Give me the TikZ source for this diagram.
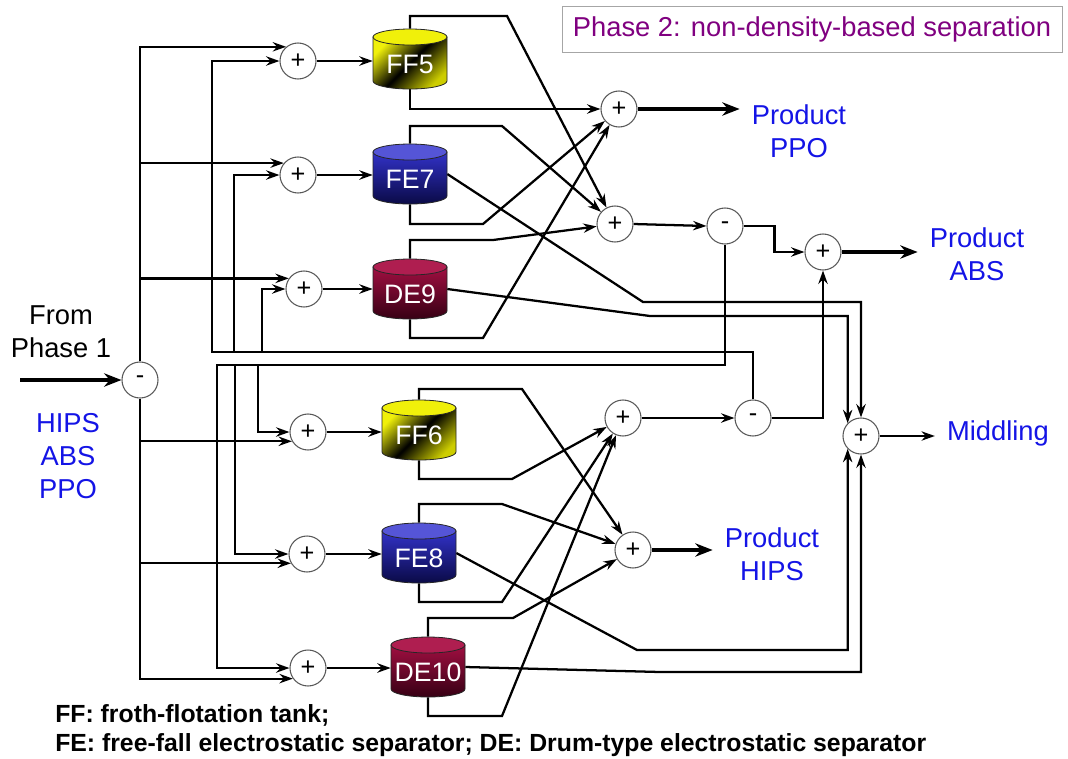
\documentclass[tikz,border=0pt]{standalone}
\usepackage{fontspec}
\setmainfont{Liberation Sans}
\usetikzlibrary{arrows.meta,backgrounds}
\definecolor{ffyel}{RGB}{240,240,10}
\definecolor{ffdark}{RGB}{205,205,0}
\definecolor{fetop}{RGB}{85,85,215}
\definecolor{febodya}{RGB}{50,50,200}
\definecolor{febodyb}{RGB}{10,10,70}
\definecolor{detop}{RGB}{175,30,80}
\definecolor{debodya}{RGB}{160,15,65}
\definecolor{debodyb}{RGB}{55,0,20}
\definecolor{lblblue}{RGB}{20,20,230}
\definecolor{phasepurple}{RGB}{128,0,128}
\newcommand\tankshape[3]{%
  \shade[#3body, draw=black!85, line width=0.6pt] (#1-37,#2-22) -- (#1-37,#2+22) arc[start angle=180,end angle=0,x radius=37,y radius=8] -- (#1+37,#2-22) -- cycle;
  \filldraw[#3top, draw=black!85, line width=0.6pt] (#1,#2-22) ellipse[x radius=37,y radius=8];
}
\tikzset{
  conn/.style={line width=1.7pt, -{Stealth[length=10pt,width=7pt]}},
  thickarr/.style={line width=2.8pt, -{Stealth[length=13pt,width=10pt]}},
  sumnode/.style={circle, draw=black!65, fill=white, line width=0.8pt, minimum size=27pt, inner sep=0pt, font=\fontsize{19}{19}\selectfont},
  tanklbl/.style={rectangle, minimum width=55.5pt, minimum height=45pt, inner sep=0pt, text=white, font=\fontsize{20}{20}\selectfont, text height=21.8pt, text depth=0pt},
  lbl/.style={text=lblblue, font=\fontsize{20.5}{24.75}\selectfont, align=center, inner xsep=9pt, inner ysep=2pt},
  FFbody/.style={top color=ffyel, bottom color=ffdark, middle color=black, shading angle=45},
  FFtop/.style={fill=ffyel},
  FEbody/.style={top color=febodya, bottom color=febodyb},
  FEtop/.style={fill=fetop},
  DEbody/.style={top color=debodya, bottom color=debodyb},
  DEtop/.style={fill=detop}
}
\begin{document}
\begin{tikzpicture}[x=0.75pt,y=-0.75pt]
\useasboundingbox (0,0) rectangle (1068,758);
\begin{pgfonlayer}{background}
\fill[white] (0,0) rectangle (1068,758);
\end{pgfonlayer}

% tanks
\tankshape{410}{59}{FF}
\tankshape{410}{174}{FE}
\tankshape{410}{289}{DE}
\tankshape{419}{430}{FF}
\tankshape{419}{553}{FE}
\tankshape{428}{667}{DE}
\node[tanklbl] (FF5) at (410,59) {FF5};
\node[tanklbl] (FE7) at (410,174) {FE7};
\node[tanklbl] (DE9) at (410,289) {DE9};
\node[tanklbl] (FF6) at (419,430) {FF6};
\node[tanklbl] (FE8) at (419,553) {FE8};
\node[tanklbl] (DE10) at (428,667) {DE10};

% summing / splitting junctions
\node[sumnode] (m0) at (140,380) {-};
\node[sumnode] (p5) at (298,61) {+};
\node[sumnode] (p7) at (298,175) {+};
\node[sumnode] (p9) at (304,289) {+};
\node[sumnode] (p6) at (308,432) {+};
\node[sumnode] (p8) at (307,554) {+};
\node[sumnode] (p10) at (308,668) {+};
\node[sumnode] (pA) at (619,109) {+};
\node[sumnode] (pB) at (615,224) {+};
\node[sumnode] (m1) at (725,226) {-};
\node[sumnode] (pC) at (823,252) {+};
\node[sumnode] (pD) at (623,418) {+};
\node[sumnode] (m2) at (753,418) {-};
\node[sumnode] (pE) at (633,550) {+};
\node[sumnode] (pM) at (861,436) {+};

% labels
\node[lbl, text=black] (from) at (61,332) {From\\Phase 1};
\node[lbl] (feed) at (68,456) {HIPS\\ABS\\PPO};
\node[lbl] (ppo) at (799,131) {Product\\PPO};
\node[lbl] (absl) at (977,254) {Product\\ABS};
\node[lbl] (midd) at (998,433) {Middling};
\node[lbl] (hips) at (772,554) {Product\\HIPS};
\node[draw=black!35, line width=0.6pt, text=phasepurple, font=\fontsize{20.5}{24}\selectfont, minimum width=375pt, minimum height=34.5pt] (phase) at (812,29) {Phase 2: non-density-based separation};
\node[anchor=base west, inner sep=0pt, font=\bfseries\fontsize{18.6}{21}\selectfont] (leg1) at (55,722) {FF: froth-flotation tank;};
\node[anchor=base west, inner sep=0pt, font=\bfseries\fontsize{18.6}{21}\selectfont] (leg2) at (55,751) {FE: free-fall electrostatic separator; DE: Drum-type electrostatic separator};

\coordinate (in0) at (20,380);
\coordinate (ub1) at (212,352);
\coordinate (ub2) at (234,352);
\coordinate (ub3) at (262,352);
\coordinate (lb1) at (217,365);
\coordinate (lb2) at (235,365);
\coordinate (lb3) at (258,365);

\begin{pgfonlayer}{background}
% feed
\draw[thickarr] (in0) -- (m0.west);
\draw[conn] (m0.north) |- (p5.130);
\draw[conn] (m0.north) |- (p7.140);
\draw[conn] (m0.north) |- (p9.145);
\draw[conn] (m0.south) |- (p6.210);
\draw[conn] (m0.south) |- (p8.210);
\draw[conn] (m0.south) |- (p10.215);
% recycle buses
\draw[conn] (m2.north) |- (ub1) |- (p5.west);
\draw[conn] (ub2) |- (p7.west);
\draw[conn] (ub3) |- (p9.west);
\draw[conn] (m1.south) |- (lb1) |- (p10.west);
\draw[conn] (lb2) |- (p8.west);
\draw[conn] (lb3) |- (p6.west);
% into tanks
\draw[conn] (p5.east) -- (p5.east -| FF5.west);
\draw[conn] (p7.east) -- (p7.east -| FE7.west);
\draw[conn] (p9.east) -- (p9.east -| DE9.west);
\draw[conn] (p6.east) -- (p6.east -| FF6.west);
\draw[conn] (p8.east) -- (p8.east -| FE8.west);
\draw[conn] (p10.east) -- (p10.east -| DE10.west);
% upper group outputs
\draw[conn] (FF5.north) |- (507,16) -- (pB);
\draw[conn] (FF5.south) |- (pA.west);
\draw[conn] (FE7.north) |- (502,126) -- (pB);
\draw[conn] (FE7.south) |- (483,224) -- (pA);
\draw[conn] (FE7.east) -- (643,302) -| (pM.north);
\draw[conn] (DE9.north) |- (493,240) -- (pB);
\draw[conn] (DE9.south) |- (483,338) -- (pA);
\draw[conn] (DE9.east) -- (650,316) -| (pM.136);
% lower group outputs
\draw[conn] (FF6.north) |- (522,389) -- (pE);
\draw[conn] (FF6.south) |- (512,479) -- (pD);
\draw[conn] (FE8.north) |- (502,504) -- (pE);
\draw[conn] (FE8.south) |- (502,602) -- (pD);
\draw[conn] (FE8.east) -- (637,650) -| (pM.224);
\draw[conn] (DE10.north) |- (513,618) -- (pE);
\draw[conn] (DE10.south) |- (502,716) -- (pD);
\draw[conn] (DE10.east) -- (660,672) -| (pM.south);
% right side
\draw[conn] (pB.east) -- (m1.west);
\draw[conn] (m1.east) -- ++(31,0) |- (pC.west);
\draw[conn] (pD.east) -- (m2.west);
\draw[conn] (m2.east) -| (pC.south);
\draw[thickarr] (pA.east) -- (pA.east -| ppo.west);
\draw[thickarr] (pC.east) -- (pC.east -| absl.west);
\draw[thickarr] (pE.east) -- (pE.east -| hips.west);
\draw[conn] (pM.east) -- (pM.east -| midd.west);
\end{pgfonlayer}
\end{tikzpicture}
\end{document}
